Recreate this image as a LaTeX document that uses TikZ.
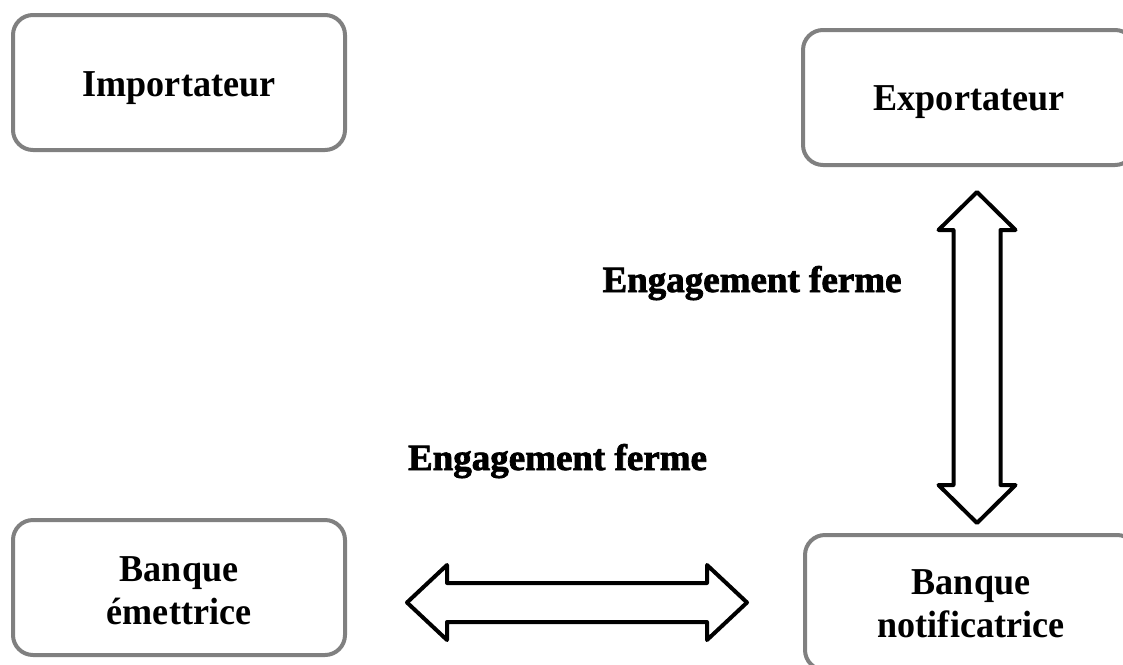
\documentclass[tikz,border=0pt]{standalone}
\usepackage{fontspec}
\setmainfont{Liberation Serif}[BoldFeatures={FakeStretch=0.95}]
\newfontfamily\labelfont{Liberation Serif}[BoldFeatures={FakeBold=2}]
\begin{document}
\begin{tikzpicture}[x=1pt, y=-1pt,
  party/.style={draw=black!50, line width=4pt, rounded corners=20pt, fill=white,
    minimum width=332pt, minimum height=135pt, align=center, inner sep=0pt,
    font=\fontsize{38}{43}\selectfont\bfseries},
  flowlabel/.style={inner sep=0pt, font=\fontsize{37}{43}\selectfont\labelfont\bfseries},
  blockarrow/.style={draw=black, line width=4pt, line join=round, fill=white}]
\useasboundingbox (0,0) rectangle (1123,664);
\clip (0,0) rectangle (1123,664);
\fill[white] (0,0) rectangle (1123,664);

% double block arrow: center, rotation, half length, head length, head half-width, shaft half-width
\newcommand\dblblockarrow[6]{%
  \begin{scope}[shift={(#1)}, rotate=#2]
    \draw[blockarrow] (-#3,0) -- (-#3+#4,#5) -- (-#3+#4,#6) -- (#3-#4,#6)
      -- (#3-#4,#5) -- (#3,0) -- (#3-#4,-#5) -- (#3-#4,-#6)
      -- (-#3+#4,-#6) -- (-#3+#4,-#5) -- cycle;
  \end{scope}}

% parties
\node[party, text height=27pt, text depth=0pt] (imp) at (179,82.5) {Importateur};
\node[party, text height=25pt, text depth=0pt] (exp) at (969,97.5) {Exportateur};
\node[party] (em)    at (179,587.5) {\rule{0pt}{32pt}Banque\\émettrice};
\node[party] (notif) at (971,602.5) {\rule{0pt}{27pt}Banque\\notificatrice};

% commitments between the banks and the exporter
\coordinate (hmid) at (577,602.5);
\coordinate (vmid) at (977,357.5);
\dblblockarrow{hmid}{0}{170}{40}{37.5}{19.5}
\dblblockarrow{vmid}{90}{165.5}{38}{38.5}{23.5}

\node[flowlabel, anchor=base] (l1) at (752,292) {Engagement ferme};
\node[flowlabel, anchor=base] (l2) at (557.5,470) {Engagement ferme};
\end{tikzpicture}
\end{document}
